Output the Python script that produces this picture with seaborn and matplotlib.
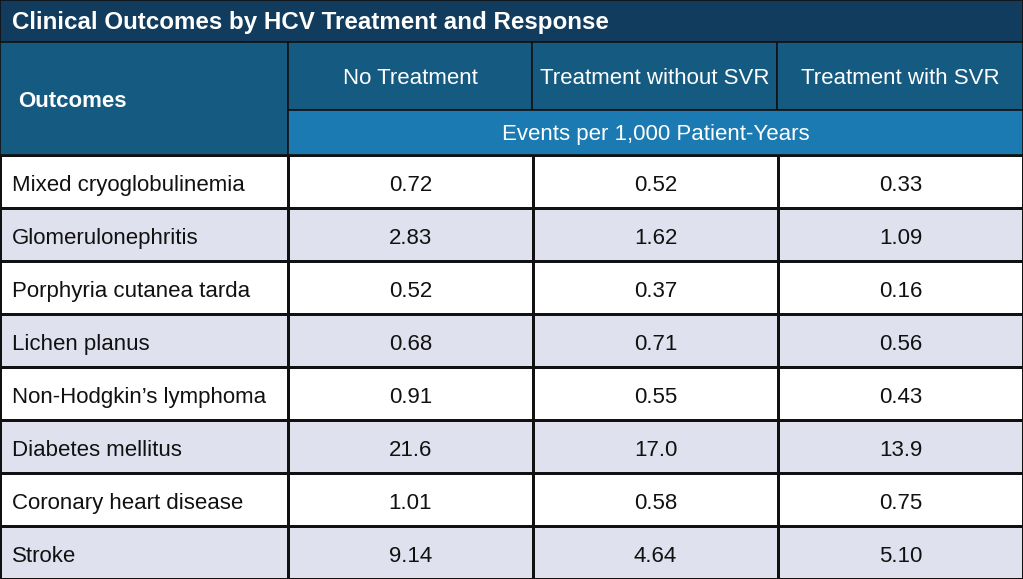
import numpy as np
import pandas as pd
import matplotlib.pyplot as plt
import seaborn as sns
from matplotlib.colors import ListedColormap
from matplotlib.patches import Rectangle

# Table content
title = "Clinical Outcomes by HCV Treatment and Response"
outcomes = [
    "Mixed cryoglobulinemia",
    "Glomerulonephritis",
    "Porphyria cutanea tarda",
    "Lichen planus",
    "Non-Hodgkin\u2019s lymphoma",
    "Diabetes mellitus",
    "Coronary heart disease",
    "Stroke",
]
groups = ["No Treatment", "Treatment without SVR", "Treatment with SVR"]
no_treatment = ["0.72", "2.83", "0.52", "0.68", "0.91", "21.6", "1.01", "9.14"]
without_svr = ["0.52", "1.62", "0.37", "0.71", "0.55", "17.0", "0.58", "4.64"]
with_svr = ["0.33", "1.09", "0.16", "0.56", "0.43", "13.9", "0.75", "5.10"]
unit_label = "Events per 1,000 Patient-Years"

sns.set_theme(style="white")
plt.rcParams["font.family"] = ["Liberation Sans", "DejaVu Sans"]

W, H = 1023, 579
fig = plt.figure(figsize=(W / 100, H / 100), dpi=100)

# geometry in pixels
title_h = 42
head_h = 113  # header block (two rows)
col1_w = 288
body_top = title_h + head_h

title_bg = "#113c5d"
head_bg = "#155a80"
sub_bg = "#1a7ab1"
stripe = "#dfe1ee"
edge = "#111111"
fs = 16

# body: row stripes via heatmap
table = pd.DataFrame(
    {groups[0]: no_treatment, groups[1]: without_svr, groups[2]: with_svr},
    index=outcomes,
)
shade = np.tile((np.arange(len(outcomes)) % 2)[:, None], (1, len(groups)))
cmap = ListedColormap(["white", stripe])
body_h = (H - body_top) / H

ax_lab = fig.add_axes([0, 0, col1_w / W, body_h])
sns.heatmap(shade[:, :1], cmap=cmap, vmin=0, vmax=1, cbar=False,
            linewidths=0.9, linecolor=edge, ax=ax_lab)
ax_lab.set_xticks([])
ax_lab.set_yticks([])
for i, name in enumerate(outcomes):
    ax_lab.text(0.04, i + 0.58, name, ha="left", va="center",
                fontsize=fs, color="#111111")

ax_val = fig.add_axes([col1_w / W, 0, 1 - col1_w / W, body_h])
sns.heatmap(shade, cmap=cmap, vmin=0, vmax=1, cbar=False,
            annot=table.values, fmt="", annot_kws={"fontsize": fs, "color": "#111111"},
            linewidths=0.9, linecolor=edge, ax=ax_val)
ax_val.set_xticks([])
ax_val.set_yticks([])
for t in ax_val.texts:
    x, y = t.get_position()
    t.set_position((x, y + 0.08))

# header
ax_h = fig.add_axes([0, body_h, 1, 1 - body_h])
ax_h.set_xlim(0, W)
ax_h.set_ylim(body_top, 0)
ax_h.axis("off")

col_edges = [col1_w, 532, 777, W]
ax_h.add_patch(Rectangle((0, 0), W, title_h, fc=title_bg, ec=edge, lw=1.2))
ax_h.text(12, title_h / 2 + 1, title, ha="left", va="center",
          fontsize=17.4, fontweight="bold", color="white")
ax_h.add_patch(Rectangle((0, title_h), col1_w, head_h, fc=head_bg, ec=edge, lw=1.2))
ax_h.text(18, title_h + head_h / 2 + 3, "Outcomes", ha="left", va="center",
          fontsize=fs, fontweight="bold", color="white")
for j, g in enumerate(groups):
    x0, x1 = col_edges[j], col_edges[j + 1]
    ax_h.add_patch(Rectangle((x0, title_h), x1 - x0, 68, fc=head_bg, ec=edge, lw=1.2))
    ax_h.text((x0 + x1) / 2, title_h + 37, g, ha="center", va="center",
              fontsize=fs, color="white")
ax_h.add_patch(Rectangle((col1_w, title_h + 68), W - col1_w, head_h - 68,
                         fc=sub_bg, ec=edge, lw=1.2))
ax_h.text((col1_w + W) / 2, title_h + 68 + (head_h - 68) / 2 + 2, unit_label,
          ha="center", va="center", fontsize=fs, color="white")

fig.savefig("out.png", dpi=100)
